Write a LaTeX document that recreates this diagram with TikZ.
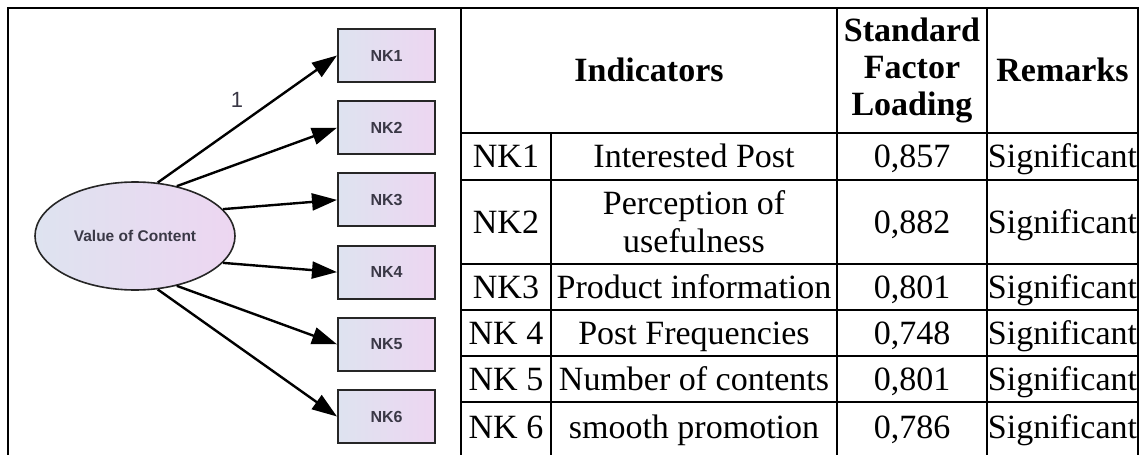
\documentclass[tikz,border=0pt]{standalone}
\usepackage{fontspec}
\setmainfont{Liberation Serif}
\newfontfamily\amosfont{Liberation Sans}
\usetikzlibrary{shapes.geometric,arrows.meta}

\definecolor{amosblue}{RGB}{222,227,240}
\definecolor{amospink}{RGB}{237,214,241}
\definecolor{amostext}{RGB}{58,56,70}

\begin{document}
\begin{tikzpicture}
[
  x=1pt, y=-1pt,
	latent/.style={ellipse,draw=black!85,line width=1.6pt,left color=amosblue,right color=amospink,minimum width=200pt,minimum height=108pt,inner sep=0pt,text=amostext,font=\amosfont\bfseries\fontsize{15.5}{18}\selectfont},
	obs/.style={draw=black!85,line width=2pt,left color=amosblue,right color=amospink,minimum width=97pt,minimum height=53pt,inner sep=0pt,text=amostext,font=\amosfont\bfseries\fontsize{16}{18}\selectfont},
	loadarrow/.style={line width=2.4pt,-{Triangle[length=25pt,width=17pt]}},
	tabline/.style={line width=2.6pt,line cap=rect},
	onecell/.style={inner sep=0pt,text height=24pt,text depth=1.5pt,font=\fontsize{34}{38}\selectfont},
	multicell/.style={inner sep=0pt,align=center,font=\fontsize{34}{38}\selectfont},
	headcell/.style={onecell,font=\bfseries\fontsize{34}{37}\selectfont},
	headmulti/.style={multicell,font=\bfseries\fontsize{34}{37}\selectfont}
]
\useasboundingbox (0,0) rectangle (1141,455);


% measurement model
\node[latent] (voc) at (135,236) {Value of Content};

\node[obs] (nk1) at (386.5,55.5) {NK1};
\node[obs] (nk2) at (386.5,127.7) {NK2};
\node[obs] (nk3) at (386.5,199.9) {NK3};
\node[obs] (nk4) at (386.5,272.1) {NK4};
\node[obs] (nk5) at (386.5,344.3) {NK5};
\node[obs] (nk6) at (386.5,416.5) {NK6};

\draw[loadarrow] (voc.67) -- (nk1.west);
\draw[loadarrow] (voc.50) -- (nk2.west);
\draw[loadarrow] (voc.17) -- (nk3.west);
\draw[loadarrow] (voc.-17) -- (nk4.west);
\draw[loadarrow] (voc.-50) -- (nk5.west);
\draw[loadarrow] (voc.-67) -- (nk6.west);

\node[font=\amosfont\fontsize{22}{24}\selectfont,text=amostext] (one) at (237,100) {1};


% figure cell
\draw[tabline] (8,8) rectangle (461,470);

% header
\draw[tabline] (461,8) rectangle (837,133) node[midway,headcell] (hind) {Indicators};
\draw[tabline] (837,8) rectangle (987,133) node[midway,headmulti] (hload) {Standard\\Factor\\Loading};
\draw[tabline] (987,8) rectangle (1138,133) node[midway,headcell] (hrem) {Remarks};

% NK1
\draw[tabline] (461,133) rectangle (551,180) node[midway,onecell] (code1) {NK1};
\draw[tabline] (551,133) rectangle (837,180) node[midway,onecell] (ind1) {Interested Post};
\draw[tabline] (837,133) rectangle (987,180) node[midway,onecell] (load1) {0,857};
\draw[tabline] (987,133) rectangle (1138,180) node[midway,onecell] (rem1) {Significant};

% NK2
\draw[tabline] (461,180) rectangle (551,264) node[midway,onecell] (code2) {NK2};
\draw[tabline] (551,180) rectangle (837,264) node[midway,multicell] (ind2) {Perception of\\usefulness};
\draw[tabline] (837,180) rectangle (987,264) node[midway,onecell] (load2) {0,882};
\draw[tabline] (987,180) rectangle (1138,264) node[midway,onecell] (rem2) {Significant};

% NK3
\draw[tabline] (461,264) rectangle (551,310) node[midway,onecell] (code3) {NK3};
\draw[tabline] (551,264) rectangle (837,310) node[midway,onecell] (ind3) {Product information};
\draw[tabline] (837,264) rectangle (987,310) node[midway,onecell] (load3) {0,801};
\draw[tabline] (987,264) rectangle (1138,310) node[midway,onecell] (rem3) {Significant};

% NK 4
\draw[tabline] (461,310) rectangle (551,356) node[midway,onecell] (code4) {NK 4};
\draw[tabline] (551,310) rectangle (837,356) node[midway,onecell] (ind4) {Post Frequencies};
\draw[tabline] (837,310) rectangle (987,356) node[midway,onecell] (load4) {0,748};
\draw[tabline] (987,310) rectangle (1138,356) node[midway,onecell] (rem4) {Significant};

% NK 5
\draw[tabline] (461,356) rectangle (551,402) node[midway,onecell] (code5) {NK 5};
\draw[tabline] (551,356) rectangle (837,402) node[midway,onecell] (ind5) {Number of contents};
\draw[tabline] (837,356) rectangle (987,402) node[midway,onecell] (load5) {0,801};
\draw[tabline] (987,356) rectangle (1138,402) node[midway,onecell] (rem5) {Significant};

% NK 6 (cut off below)
\draw[tabline] (461,402) rectangle (551,470);
\draw[tabline] (551,402) rectangle (837,470);
\draw[tabline] (837,402) rectangle (987,470);
\draw[tabline] (987,402) rectangle (1138,470);
\node[onecell] (code6) at (506,427) {NK 6};
\node[onecell] (ind6) at (694,427) {smooth promotion};
\node[onecell] (load6) at (912,427) {0,786};
\node[onecell] (rem6) at (1062.5,427) {Significant};

\end{tikzpicture}
\end{document}
